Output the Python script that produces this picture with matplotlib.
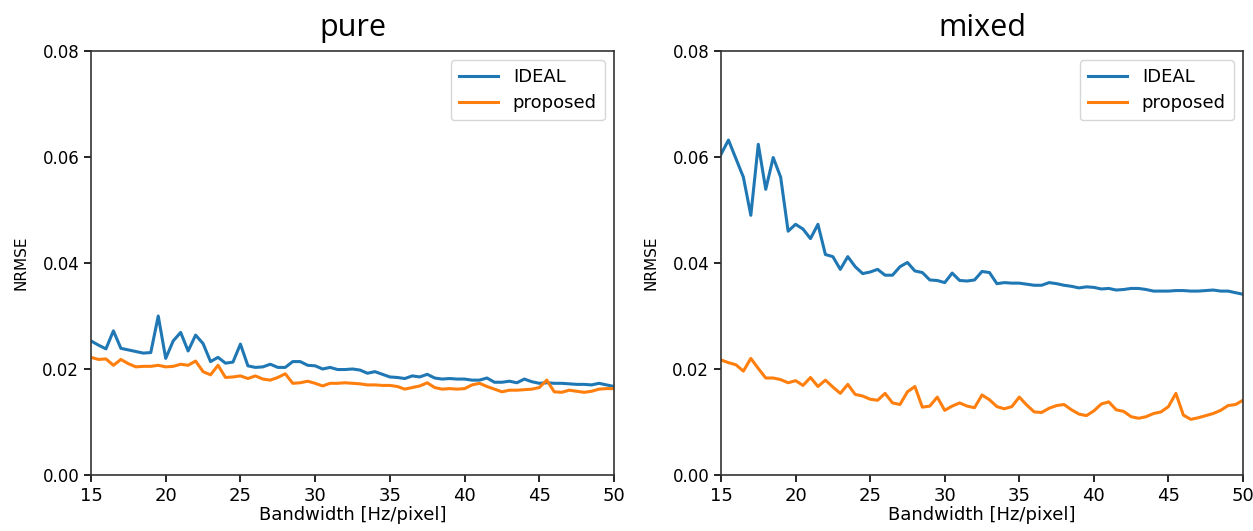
import numpy as np
import matplotlib
matplotlib.use("Agg")
import matplotlib.pyplot as plt
from matplotlib.ticker import FormatStrFormatter

bandwidth = np.arange(15, 50.01, 0.5)

pure_ideal = [0.0253, 0.0245, 0.0238, 0.0272, 0.0239, 0.0236, 0.0233, 0.0230, 0.0231, 0.0300,
              0.0220, 0.0253, 0.0269, 0.0234, 0.0264, 0.0248, 0.0214, 0.0222, 0.0211, 0.0213,
              0.0247, 0.0206, 0.0203, 0.0204, 0.0209, 0.0203, 0.0203, 0.0214, 0.0214, 0.0207,
              0.0206, 0.0200, 0.0203, 0.0199, 0.0199, 0.0200, 0.0198, 0.0192, 0.0195, 0.0190,
              0.0185, 0.0184, 0.0182, 0.0187, 0.0185, 0.0190, 0.0183, 0.0181, 0.0182, 0.0181,
              0.0181, 0.0179, 0.0179, 0.0183, 0.0175, 0.0175, 0.0177, 0.0174, 0.0181, 0.0176,
              0.0173, 0.0174, 0.0173, 0.0173, 0.0172, 0.0171, 0.0171, 0.0170, 0.0173, 0.0170,
              0.0167]
pure_proposed = [0.0222, 0.0218, 0.0219, 0.0207, 0.0218, 0.0210, 0.0204, 0.0205, 0.0205, 0.0207,
                 0.0204, 0.0205, 0.0209, 0.0207, 0.0215, 0.0195, 0.0189, 0.0207, 0.0184, 0.0185,
                 0.0187, 0.0182, 0.0187, 0.0181, 0.0179, 0.0184, 0.0191, 0.0173, 0.0174, 0.0177,
                 0.0173, 0.0168, 0.0173, 0.0173, 0.0174, 0.0173, 0.0172, 0.0170, 0.0170, 0.0169,
                 0.0169, 0.0167, 0.0162, 0.0165, 0.0168, 0.0174, 0.0165, 0.0162, 0.0163, 0.0162,
                 0.0163, 0.0170, 0.0173, 0.0167, 0.0162, 0.0157, 0.0160, 0.0160, 0.0161, 0.0162,
                 0.0165, 0.0179, 0.0157, 0.0156, 0.0160, 0.0158, 0.0156, 0.0158, 0.0162, 0.0163,
                 0.0163]

mixed_ideal = [0.0605, 0.0632, 0.0597, 0.0562, 0.0490, 0.0624, 0.0539, 0.0599, 0.0562, 0.0460,
               0.0473, 0.0464, 0.0446, 0.0473, 0.0416, 0.0412, 0.0388, 0.0412, 0.0393, 0.0380,
               0.0383, 0.0388, 0.0377, 0.0377, 0.0393, 0.0401, 0.0385, 0.0382, 0.0368, 0.0367,
               0.0363, 0.0381, 0.0367, 0.0366, 0.0368, 0.0384, 0.0382, 0.0361, 0.0363, 0.0362,
               0.0362, 0.0360, 0.0358, 0.0358, 0.0363, 0.0361, 0.0358, 0.0356, 0.0353, 0.0355,
               0.0354, 0.0351, 0.0352, 0.0349, 0.0350, 0.0352, 0.0352, 0.0350, 0.0347, 0.0347,
               0.0347, 0.0348, 0.0348, 0.0347, 0.0347, 0.0348, 0.0349, 0.0347, 0.0347, 0.0344,
               0.0341]
mixed_proposed = [0.0217, 0.0212, 0.0208, 0.0196, 0.0220, 0.0201, 0.0183, 0.0183, 0.0180, 0.0174,
                  0.0178, 0.0169, 0.0184, 0.0167, 0.0179, 0.0166, 0.0154, 0.0171, 0.0152, 0.0149,
                  0.0143, 0.0141, 0.0154, 0.0136, 0.0133, 0.0157, 0.0167, 0.0128, 0.0130, 0.0147,
                  0.0122, 0.0130, 0.0136, 0.0130, 0.0127, 0.0151, 0.0142, 0.0129, 0.0125, 0.0129,
                  0.0147, 0.0132, 0.0119, 0.0118, 0.0126, 0.0131, 0.0133, 0.0123, 0.0115, 0.0112,
                  0.0121, 0.0134, 0.0138, 0.0123, 0.0120, 0.0110, 0.0107, 0.0110, 0.0116, 0.0119,
                  0.0129, 0.0154, 0.0113, 0.0105, 0.0108, 0.0112, 0.0116, 0.0122, 0.0131, 0.0133,
                  0.0141]

titles = ["pure", "mixed"]
series_names = ["IDEAL", "proposed"]
x_ticks = [15, 20, 25, 30, 35, 40, 45, 50]
y_ticks = [0.00, 0.02, 0.04, 0.06, 0.08]

fig = plt.figure(figsize=(12.53, 5.31), dpi=100)
ax1 = fig.add_axes([91/1253, 1-475/531, (614-91)/1253, (475-51)/531])
ax2 = fig.add_axes([721/1253, 1-475/531, (1243-721)/1253, (475-51)/531])

for ax, title, ideal, prop in [(ax1, titles[0], pure_ideal, pure_proposed),
                               (ax2, titles[1], mixed_ideal, mixed_proposed)]:
    ax.plot(bandwidth, ideal, color="#1f77b4", lw=2.2, label=series_names[0])
    ax.plot(bandwidth, prop, color="#ff7f0e", lw=2.2, label=series_names[1])
    ax.set_xlim(15, 50)
    ax.set_ylim(0, 0.08)
    ax.set_xticks(x_ticks)
    ax.set_yticks(y_ticks)
    ax.yaxis.set_major_formatter(FormatStrFormatter("%.2f"))
    ax.tick_params(axis="x", labelsize=13, length=5, width=1.2)
    ax.tick_params(axis="y", labelsize=12, length=5, width=1.2)
    ax.set_xlabel("Bandwidth [Hz/pixel]", fontsize=13, labelpad=1)
    ax.set_ylabel("NRMSE", fontsize=11, labelpad=10)
    for s in ax.spines.values():
        s.set_linewidth(1.2)
        s.set_color("#333333")
    ax.set_title(title, fontsize=22, family="Open Sans", pad=11)
    ax.legend(loc="upper right", fontsize=13, handlelength=2.2, borderpad=0.45,
              labelspacing=0.45)

fig.savefig("out.png", dpi=100)
